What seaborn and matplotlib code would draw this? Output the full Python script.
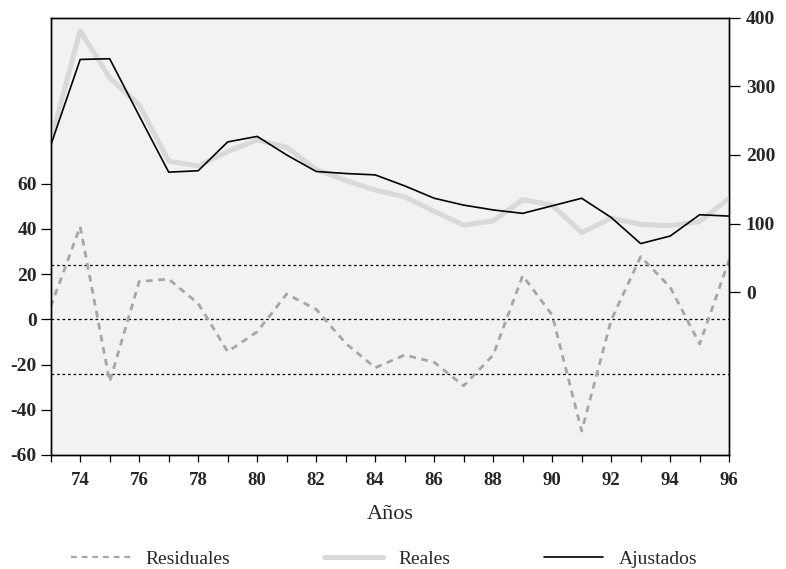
import matplotlib
matplotlib.use("Agg")
import matplotlib.pyplot as plt
import seaborn as sns
from matplotlib.lines import Line2D
from matplotlib.ticker import MultipleLocator

sns.set_theme(style="white")
plt.rcParams["font.family"] = ["Liberation Serif", "DejaVu Serif"]

# Annual series 1973-1996
years = list(range(1973, 1997))
reales = [220, 381, 312, 273, 191, 184, 205, 222, 211, 179, 163, 149,
          139, 118, 98, 104, 135, 127, 87, 108, 99, 97, 103, 137]
ajustados = [214, 339, 340, 257, 175, 177, 219, 227, 200, 176, 173, 171,
             155, 137, 127, 120, 115, 126, 137, 109, 71, 82, 113, 111]
residuales = [5.6, 41, -27.6, 16.7, 17.8, 7, -14.3, -5.5, 11.2, 4.4, -10.6, -21.4,
              -15.8, -19, -29.4, -15.8, 19.3, 1.9, -49.4, -0.3, 27.7, 14.2, -10.9, 26.3]
banda = 24.2  # one standard error of the residuals

x_ticks = list(range(1974, 1997, 2))
x_labels = [f"{y % 100:02d}" for y in x_ticks]
left_ticks = [-60, -40, -20, 0, 20, 40, 60]
right_ticks = [0, 100, 200, 300, 400]

fig = plt.figure(figsize=(7.86, 5.69), dpi=100)
ax = fig.add_axes([0.0645, 0.2004, 0.8632, 0.7688])
ax.set_facecolor("#f2f2f2")
ax2 = ax.twinx()
ax2.patch.set_visible(False)

res_color = "#a6a6a6"
real_color = "#d9d9d9"
fit_color = "black"

# residuals on the left scale
sns.lineplot(x=years, y=residuales, ax=ax, color=res_color, lw=2.0,
             dashes=False, legend=False)
ax.lines[-1].set_dashes((2.4, 2.0))
for h in (-banda, 0, banda):
    ax.axhline(h, color="black", lw=0.9, ls=(0, (2.2, 2.2)), zorder=1)

# actual and fitted on the right scale
sns.lineplot(x=years, y=reales, ax=ax2, color=real_color, lw=3.6, legend=False)
sns.lineplot(x=years, y=ajustados, ax=ax2, color=fit_color, lw=1.2, legend=False)

ax.set_xlim(1973, 1996)
ax.set_ylim(-60, 133.5)
ax2.set_ylim(-236.6, 400)

ax.set_xticks(x_ticks)
ax.set_xticklabels(x_labels, fontsize=13.5, fontweight="semibold")
ax.xaxis.set_minor_locator(MultipleLocator(1))
ax.set_yticks(left_ticks)
ax.set_yticklabels([str(v) for v in left_ticks], fontsize=14, fontweight="bold")
ax2.set_yticks(right_ticks)
ax2.set_yticklabels([str(v) for v in right_ticks], fontsize=14, fontweight="bold")

ax.tick_params(axis="x", which="both", direction="out", length=5, width=0.9,
               color="black", bottom=True, pad=7)
ax.tick_params(axis="y", direction="out", length=7, width=0.9, color="black",
               left=True, pad=3)
ax2.tick_params(axis="y", direction="out", length=8, width=0.9, color="black",
                right=True, pad=4)

for a in (ax, ax2):
    for s in a.spines.values():
        s.set_visible(True)
        s.set_color("black")
        s.set_linewidth(1.0)

ax.set_xlabel("Años", fontsize=16, labelpad=12)
ax.set_ylabel("")
ax2.set_ylabel("")

handles = [
    Line2D([], [], color=res_color, lw=1.6, dashes=(2.6, 2.2)),
    Line2D([], [], color=real_color, lw=3.6),
    Line2D([], [], color=fit_color, lw=1.2),
]
fig.legend(handles, ["Residuales", "Reales", "Ajustados"], loc="center left",
           bbox_to_anchor=(0.0903, 0.0176), ncol=3, frameon=False, fontsize=14,
           borderpad=0, borderaxespad=0, handlelength=3.05, handletextpad=0.8,
           columnspacing=4.8)

fig.savefig("out.png", dpi=100)
